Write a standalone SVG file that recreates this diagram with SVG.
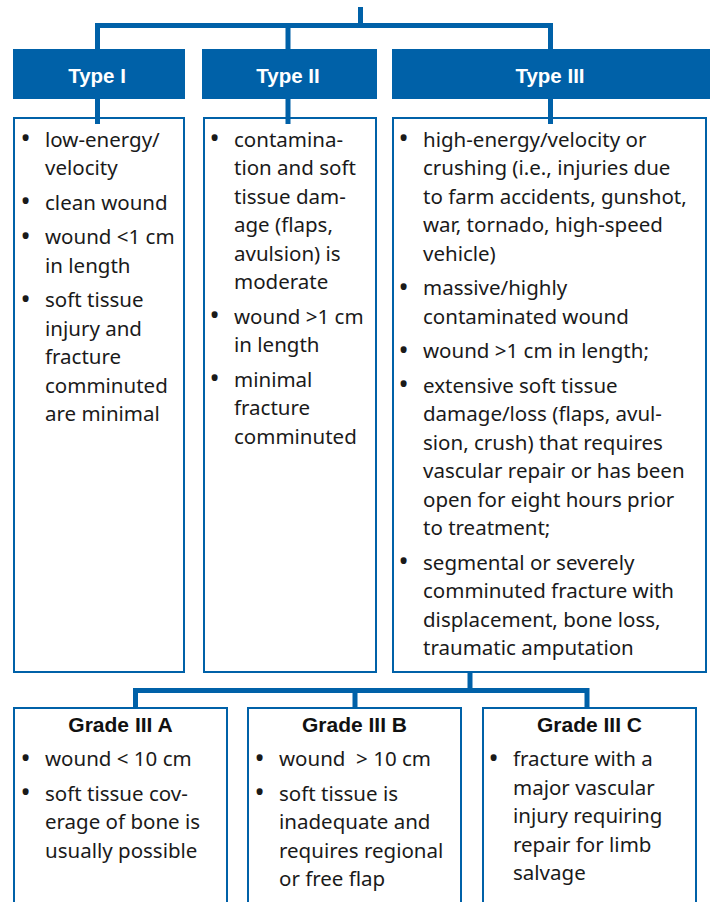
<svg xmlns="http://www.w3.org/2000/svg" width="710" height="902" viewBox="0 0 710 902">
<style>
.hdr{fill:#0061A8}
.box{fill:#fff;stroke:#0061A8;stroke-width:2}
.ln{stroke:#0061A8;stroke-width:5;fill:none}
.ht{font-family:"Liberation Sans",Arial,sans-serif;font-weight:bold;font-size:20.5px;fill:#fff;text-anchor:middle}
.gt{font-family:"Liberation Sans",Arial,sans-serif;font-weight:bold;font-size:21px;fill:#111;text-anchor:middle}
.t{font-family:"Noto Sans","Open Sans",sans-serif;font-size:20.5px;fill:#1a1a1a}
.b{font-family:"Noto Sans","Open Sans",sans-serif;font-size:27px;fill:#1a1a1a;text-anchor:middle}
</style>
<rect width="710" height="902" fill="#fff"/>

<g id="type1">
<rect class="hdr" x="13" y="49" width="172" height="50"/>
<text class="ht" x="97" y="83">Type I</text>
<rect class="box" x="14" y="118" width="170" height="554"/>
<g class="b" transform="translate(0,1.5)"><text x="25.5" y="146.7">•</text><text x="25.5" y="209.7">•</text><text x="25.5" y="244.2">•</text><text x="25.5" y="307.2">•</text></g>
<g class="t">
<text x="45" y="146.7">low-energy/</text>
<text x="45" y="175.2">velocity</text>
<text x="45" y="209.7">clean wound</text>
<text x="45" y="244.2">wound &lt;1 cm</text>
<text x="45" y="272.7">in length</text>
<text x="45" y="307.2">soft tissue</text>
<text x="45" y="335.7">injury and</text>
<text x="45" y="364.2">fracture</text>
<text x="45" y="392.7">comminuted</text>
<text x="45" y="421.2">are minimal</text>
</g>
</g>

<g id="type2">
<rect class="hdr" x="202" y="49" width="175" height="50"/>
<text class="ht" x="288" y="83">Type II</text>
<rect class="box" x="204" y="118" width="172" height="554"/>
<g class="b" transform="translate(0,1.5)"><text x="214.5" y="146.7">•</text><text x="214.5" y="323.7">•</text><text x="214.5" y="386.7">•</text></g>
<g class="t">
<text x="234" y="146.7">contamina-</text>
<text x="234" y="175.2">tion and soft</text>
<text x="234" y="203.7">tissue dam-</text>
<text x="234" y="232.2">age (flaps,</text>
<text x="234" y="260.7">avulsion) is</text>
<text x="234" y="289.2">moderate</text>
<text x="234" y="323.7">wound &gt;1 cm</text>
<text x="234" y="352.2">in length</text>
<text x="234" y="386.7">minimal</text>
<text x="234" y="415.2">fracture</text>
<text x="234" y="443.7">comminuted</text>
</g>
</g>

<g id="type3">
<rect class="hdr" x="392" y="49" width="318" height="50"/>
<text class="ht" x="550" y="83">Type III</text>
<rect class="box" x="393" y="118" width="313" height="554"/>
<g class="b" transform="translate(0,1.5)"><text x="403.5" y="146.7">•</text><text x="403.5" y="295.2">•</text><text x="403.5" y="358.2">•</text><text x="403.5" y="392.7">•</text><text x="403.5" y="569.7">•</text></g>
<g class="t">
<text x="423" y="146.7">high-energy/velocity or</text>
<text x="423" y="175.2">crushing (i.e., injuries due</text>
<text x="423" y="203.7">to farm accidents, gunshot,</text>
<text x="423" y="232.2">war, tornado, high-speed</text>
<text x="423" y="260.7">vehicle)</text>
<text x="423" y="295.2">massive/highly</text>
<text x="423" y="323.7">contaminated wound</text>
<text x="423" y="358.2">wound &gt;1 cm in length;</text>
<text x="423" y="392.7">extensive soft tissue</text>
<text x="423" y="421.2">damage/loss (flaps, avul-</text>
<text x="423" y="449.7">sion, crush) that requires</text>
<text x="423" y="478.2">vascular repair or has been</text>
<text x="423" y="506.7">open for eight hours prior</text>
<text x="423" y="535.2">to treatment;</text>
<text x="423" y="569.7">segmental or severely</text>
<text x="423" y="598.2">comminuted fracture with</text>
<text x="423" y="626.7">displacement, bone loss,</text>
<text x="423" y="655.2">traumatic amputation</text>
</g>
</g>

<g id="gradeA">
<rect class="box" x="14" y="708" width="213" height="300"/>
<text class="gt" x="120.5" y="731.7">Grade III A</text>
<g class="b" transform="translate(0,1.5)"><text x="25.5" y="766">•</text><text x="25.5" y="800.5">•</text></g>
<g class="t">
<text x="45" y="766">wound &lt; 10 cm</text>
<text x="45" y="800.5">soft tissue cov-</text>
<text x="45" y="829">erage of bone is</text>
<text x="45" y="857.5">usually possible</text>
</g>
</g>

<g id="gradeB">
<rect class="box" x="248" y="708" width="213" height="300"/>
<text class="gt" x="354.5" y="731.7">Grade III B</text>
<g class="b" transform="translate(0,1.5)"><text x="259.5" y="766">•</text><text x="259.5" y="800.5">•</text></g>
<g class="t">
<text x="279" y="766" xml:space="preserve">wound  &gt; 10 cm</text>
<text x="279" y="800.5">soft tissue is</text>
<text x="279" y="829">inadequate and</text>
<text x="279" y="857.5">requires regional</text>
<text x="279" y="886">or free flap</text>
</g>
</g>

<g id="gradeC">
<rect class="box" x="483" y="708" width="213" height="300"/>
<text class="gt" x="589.5" y="731.7">Grade III C</text>
<g class="b" transform="translate(0,1.5)"><text x="493.5" y="766">•</text></g>
<g class="t">
<text x="513" y="766">fracture with a</text>
<text x="513" y="794.5">major vascular</text>
<text x="513" y="823">injury requiring</text>
<text x="513" y="851.5">repair for limb</text>
<text x="513" y="880">salvage</text>
</g>
</g>

<g id="connectors" class="ln">
<path d="M360.5 7V25.5"/>
<path d="M97.5 49V25.5H550.5V49M288 25.5V49"/>
<path d="M97.5 99V124M288 99V124M550.5 99V124"/>
<path d="M470 673V690.5"/>
<path d="M135.5 707V690.5H587V707M355 690.5V707"/>
</g>
</svg>
